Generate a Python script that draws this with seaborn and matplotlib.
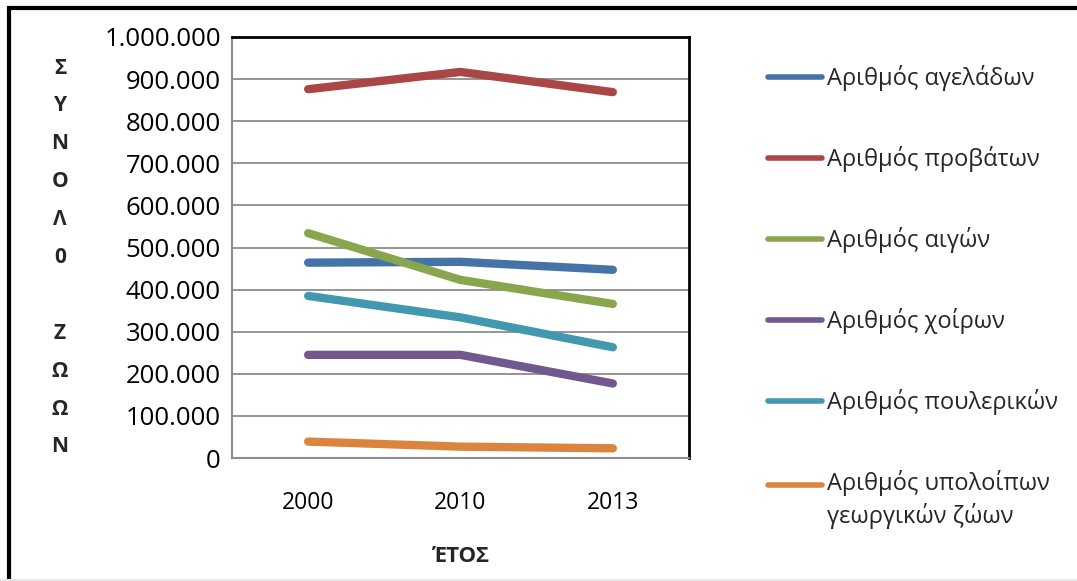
import matplotlib
matplotlib.use("Agg")
import matplotlib.pyplot as plt
import matplotlib.ticker as mticker
import pandas as pd
import seaborn as sns

# Data
years = ["2000", "2010", "2013"]
series_names = [
    "Αριθμός αγελάδων",
    "Αριθμός προβάτων",
    "Αριθμός αιγών",
    "Αριθμός χοίρων",
    "Αριθμός πουλερικών",
    "Αριθμός υπολοίπων\nγεωργικών ζώων",
]
cows = [464000, 466000, 447000]
sheep = [876000, 917000, 869000]
goats = [534000, 423000, 366000]
pigs = [245000, 245000, 177000]
poultry = [385000, 334000, 263000]
others = [39000, 27000, 23000]
colors = ["#4572A7", "#AA4643", "#89A54E", "#71588F", "#4198AF", "#DB843D"]

rows = []
for name, vals in zip(series_names, [cows, sheep, goats, pigs, poultry, others]):
    for y, v in zip(years, vals):
        rows.append({"year": y, "value": v, "series": name})
df = pd.DataFrame(rows)

sns.set_style("white")
plt.rcParams["font.family"] = ["Open Sans", "DejaVu Sans"]

fig = plt.figure(figsize=(10.77, 5.81), dpi=100)
ax = fig.add_axes([232 / 1077, 1 - 458 / 581, (689 - 232) / 1077, (458 - 37) / 581])

sns.lineplot(data=df, x="year", y="value", hue="series", palette=colors,
             linewidth=6, ax=ax, solid_capstyle="round", solid_joinstyle="round",
             sort=False)

ax.set_xlim(-0.5, 2.5)
ax.set_ylim(0, 1000000)
ax.yaxis.set_major_locator(mticker.MultipleLocator(100000))
ax.yaxis.set_major_formatter(mticker.FuncFormatter(lambda v, p: f"{int(v):,}".replace(",", ".")))
ax.grid(axis="y", color="#8c8c8c", linewidth=1.3)
ax.set_axisbelow(True)

ax.xaxis.set_minor_locator(mticker.FixedLocator([-0.5, 0.5, 1.5, 2.5]))
ax.tick_params(axis="x", which="major", length=0, pad=24, labelsize=16.5)
ax.tick_params(axis="x", which="minor", length=6, width=1.5, color="#8c8c8c", direction="out")
ax.tick_params(axis="y", length=5, width=1.5, color="#8c8c8c", direction="out", pad=3, labelsize=18.5)
ax.tick_params(axis="both", labelcolor="black")

for side in ["left", "bottom"]:
    ax.spines[side].set_color("#8c8c8c")
    ax.spines[side].set_linewidth(1.5)
for side in ["top", "right"]:
    ax.spines[side].set_color("black")
    ax.spines[side].set_linewidth(2)

ax.set_xlabel("ΈΤΟΣ", fontsize=16, fontweight="bold", labelpad=22)
ax.set_ylabel("")

leg = ax.legend(loc="upper left", bbox_to_anchor=(768 / 1077, 1 - 65 / 581),
                bbox_transform=fig.transFigure, frameon=False, fontsize=17,
                handlelength=2.3, handletextpad=0.2, labelspacing=2.33,
                borderaxespad=0, borderpad=0)
for line in leg.get_lines():
    line.set_linewidth(4)
    line.set_solid_capstyle("round")
leg.get_texts()[-1].set_linespacing(1.35)

# vertical stacked y-axis title
letters = ["Σ", "Υ", "Ν", "Ο", "Λ", "0", "", "Ζ", "Ω", "Ω", "Ν"]
for i, ch in enumerate(letters):
    fig.text(60 / 1077, 1 - (68 + i * 37.9) / 581, ch, ha="center", va="center",
             fontsize=15, fontweight="bold")

# figure frame (top and left)
fig.add_artist(plt.Line2D([9 / 1077, 9 / 1077, 1], [0, 1 - 8 / 581, 1 - 8 / 581],
                          transform=fig.transFigure, color="black", linewidth=3,
                          solid_joinstyle="miter"))
fig.add_artist(plt.Line2D([0, 1], [1 / 581, 1 / 581], transform=fig.transFigure,
                          color="#e6e6e6", linewidth=1.5))

# align the last legend handle with the first line of its two-line label
fig.canvas.draw()
txt = leg.get_texts()[-1]
bb = txt.get_window_extent()
handle = leg.get_lines()[-1]
tr = handle.get_transform()
target_y = bb.y1 - bb.height / 4
xd = list(handle.get_xdata())
yd = list(handle.get_ydata())
new_y = tr.inverted().transform((tr.transform((xd[0], yd[0]))[0], target_y))[1]
handle.set_ydata([new_y] * len(yd))

fig.savefig("out.png", dpi=100)
